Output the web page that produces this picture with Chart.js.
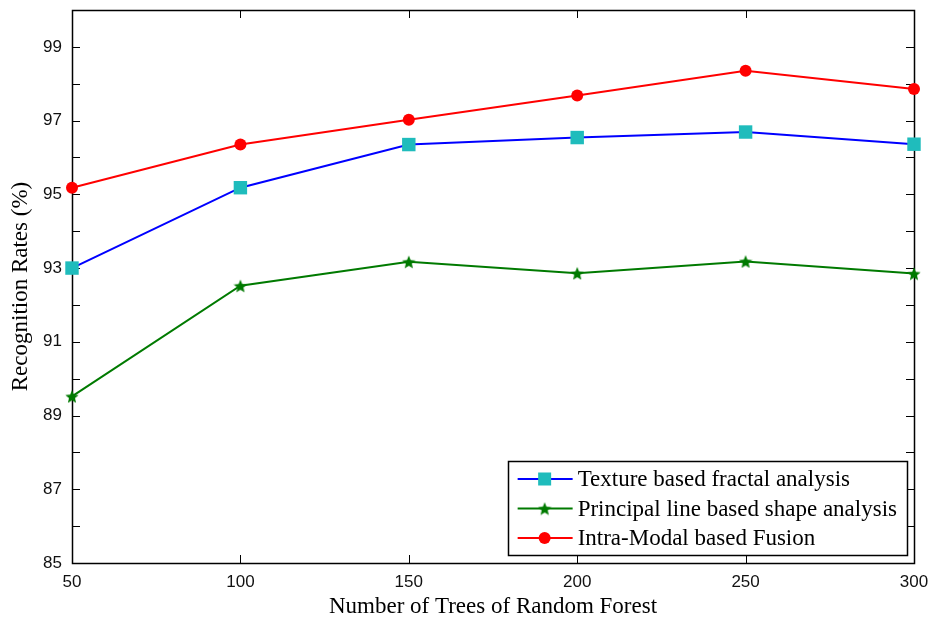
<!DOCTYPE html>
<html>
<head>
<meta charset="utf-8">
<script src="https://cdn.jsdelivr.net/npm/chart.js@4.4.1/dist/chart.umd.min.js"></script>
<style>
  html, body { margin: 0; padding: 0; background: #fff; }
  #wrap { width: 935px; height: 623px; }
</style>
</head>
<body>
<div id="wrap"><canvas id="chart" width="935" height="623"></canvas></div>
<script>
// values
const trees = [`50`, `100`, `150`, `200`, `250`, `300`];
const texture = [93.0, 95.18, 96.35, 96.54, 96.69, 96.36];
const principal = [89.52, 92.52, 93.17, 92.86, 93.18, 92.85];
const fusion = [95.18, 96.35, 97.02, 97.68, 98.35, 97.86];

const seriesNames = [
  `Texture based fractal analysis`,
  `Principal line based shape analysis`,
  `Intra-Modal based Fusion`,
];

const SERIF = `"Liberation Serif", "Times New Roman", serif`;
const SANS = `"Liberation Sans", Arial, sans-serif`;
const GREEN = `#007a00`;

// five point star used as marker
const makeStar = (size, color) => {
  const c = document.createElement(`canvas`);
  c.width = size;
  c.height = size;
  const g = c.getContext(`2d`);
  const cx = size / 2;
  const cy = size / 2 + 0.8;
  const outer = size / 2;
  const inner = outer * 0.45;
  g.beginPath();
  for (let i = 0; i < 10; i++) {
    const r = i % 2 === 0 ? outer : inner;
    const a = -Math.PI / 2 + i * Math.PI / 5;
    const px = cx + r * Math.cos(a);
    const py = cy + r * Math.sin(a);
    if (i === 0) {
      g.moveTo(px, py);
    } else {
      g.lineTo(px, py);
    }
  }
  g.closePath();
  g.fillStyle = color;
  g.fill();
  return c;
};

const starImg = makeStar(14, GREEN);

// frame + inward ticks like the original figure
const framePlugin = {
  id: `frame`,
  beforeDatasetsDraw(chart) {
    const {ctx, chartArea: a, scales} = chart;
    const len = 8;
    ctx.save();
    ctx.strokeStyle = `#000`;
    ctx.lineWidth = 1;
    ctx.beginPath();
    scales.y.ticks.forEach((t) => {
      const y = Math.round(scales.y.getPixelForValue(t.value)) + 0.5;
      ctx.moveTo(a.left, y);
      ctx.lineTo(a.left + len, y);
      ctx.moveTo(a.right, y);
      ctx.lineTo(a.right - len, y);
    });
    scales.x.ticks.forEach((t) => {
      const x = Math.round(scales.x.getPixelForValue(t.value)) + 0.5;
      ctx.moveTo(x, a.bottom);
      ctx.lineTo(x, a.bottom - len);
      ctx.moveTo(x, a.top);
      ctx.lineTo(x, a.top + len);
    });
    ctx.stroke();
    ctx.lineWidth = 1.5;
    ctx.strokeRect(Math.round(a.left) + 0.5, Math.round(a.top) + 0.5,
      Math.round(a.right - a.left), Math.round(a.bottom - a.top));
    ctx.restore();
  }
};

// boxed legend in the lower right corner of the plot
const legendBox = {
  id: `legendBox`,
  afterDatasetsDraw(chart) {
    const {ctx, chartArea: a} = chart;
    const rowH = 29.5;
    ctx.save();
    ctx.font = `23px ${SERIF}`;
    const textW = Math.max(...chart.data.datasets.map((d) => ctx.measureText(d.label).width));
    const w = 70 + textW + 10;
    const h = 94;
    const right = a.right - 7;
    const bottom = a.bottom - 8;
    const left = right - w;
    const top = bottom - h;

    ctx.fillStyle = `#fff`;
    ctx.fillRect(left, top, w, h);
    ctx.strokeStyle = `#000`;
    ctx.lineWidth = 1.5;
    ctx.strokeRect(Math.round(left) + 0.5, Math.round(top) + 0.5, Math.round(w), Math.round(h));

    chart.data.datasets.forEach((d, i) => {
      const y = top + 18 + i * rowH;
      ctx.strokeStyle = d.borderColor;
      ctx.lineWidth = 2;
      ctx.beginPath();
      ctx.moveTo(left + 10, y);
      ctx.lineTo(left + 65, y);
      ctx.stroke();

      const mx = left + 37;
      if (d.pointStyle === `rect`) {
        ctx.fillStyle = d.pointBackgroundColor;
        ctx.fillRect(mx - 6.5, y - 6.5, 13, 13);
      } else if (d.pointStyle === `circle`) {
        ctx.fillStyle = d.pointBackgroundColor;
        ctx.beginPath();
        ctx.arc(mx, y, 6, 0, Math.PI * 2);
        ctx.fill();
      } else {
        ctx.drawImage(d.pointStyle, mx - 7, y - 7);
      }

      ctx.fillStyle = `#000`;
      ctx.textBaseline = `middle`;
      ctx.textAlign = `left`;
      ctx.fillText(d.label, left + 70, y + 1);
    });
    ctx.restore();
  }
};

const canvas = document.getElementById(`chart`);

new Chart(canvas, {
  type: `line`,
  data: {
    labels: trees,
    datasets: [{
      label: seriesNames[0],
      data: texture,
      borderColor: `#0000ff`,
      borderWidth: 2,
      pointStyle: `rect`,
      pointRadius: 9.5,
      pointBackgroundColor: `#1fbcbc`,
      pointBorderWidth: 0,
      pointBorderColor: `#1fbcbc`,
    }, {
      label: seriesNames[1],
      data: principal,
      borderColor: GREEN,
      borderWidth: 2,
      pointStyle: starImg,
      pointRadius: 7,
      pointBackgroundColor: GREEN,
    }, {
      label: seriesNames[2],
      data: fusion,
      borderColor: `#ff0000`,
      borderWidth: 2,
      pointStyle: `circle`,
      pointRadius: 6,
      pointBackgroundColor: `#ff0000`,
      pointBorderWidth: 0,
      pointBorderColor: `#ff0000`,
    }]
  },
  plugins: [framePlugin, legendBox],
  options: {
    responsive: false,
    animation: false,
    clip: false,
    layout: {
      padding: {left: 0, right: 21, top: 10, bottom: 0},
    },
    elements: {
      line: {tension: 0},
    },
    scales: {
      x: {
        offset: false,
        grid: {display: false, drawTicks: false},
        border: {display: false},
        ticks: {
          padding: 9,
          color: `#111`,
          font: {family: SANS, size: 17},
          maxRotation: 0,
        },
        title: {
          display: true,
          text: `Number of Trees of Random Forest`,
          color: `#000`,
          font: {family: SERIF, size: 23},
          padding: {top: 0, bottom: 2},
        },
        afterFit(scale) {
          scale.height = 60;
          scale.paddingLeft = 0;
          scale.paddingRight = 0;
        },
      },
      y: {
        min: 85,
        max: 100,
        grid: {display: false, drawTicks: false},
        border: {display: false},
        ticks: {
          stepSize: 1,
          autoSkip: false,
          padding: 10,
          color: `#111`,
          font: {family: SANS, size: 17},
          callback: (value) => (value % 2 === 1 ? value : ``),
        },
        title: {
          display: true,
          text: `Recognition Rates (%)`,
          color: `#000`,
          font: {family: SERIF, size: 23},
          padding: {top: 7, bottom: 0},
        },
        afterFit(scale) {
          scale.width = 72;
          scale.paddingTop = 0;
          scale.paddingBottom = 0;
        },
      },
    },
    plugins: {
      legend: {display: false},
      tooltip: {enabled: false},
    },
  },
});
</script>
</body>
</html>
